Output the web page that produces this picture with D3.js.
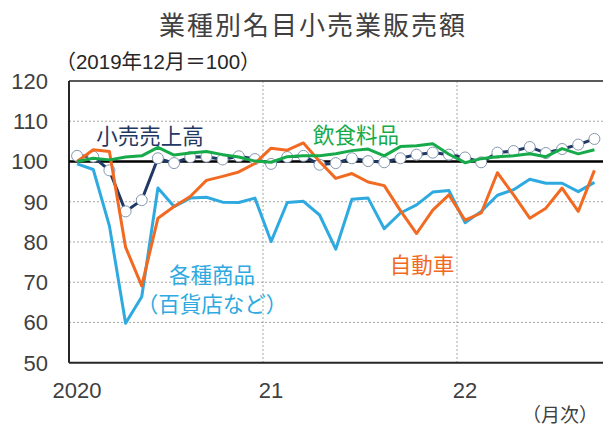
<!DOCTYPE html>
<meta charset="utf-8">
<script src="https://d3js.org/d3.v7.min.js"></script>
<style>
* { margin: 0; padding: 0; }
body { background: #fff; }
text { font-family: "Liberation Sans", "Noto Sans CJK JP", sans-serif; }
.jp { font-family: "Noto Sans CJK JP", sans-serif; }
</style>
<svg width="603" height="428"></svg>
<script>
// monthly index, 2019/12 = 100 (Jan 2020 .. Sep 2022)
const months = d3.range(33);
const total = [101.4, 101.2, 97.8, 87.6, 90.4, 100.8, 99.6, 101.1, 101.2, 100.5, 101.3, 100.6,
  99.4, 101.1, 101.4, 99.2, 99.6, 100.8, 100.1, 99.8, 100.8, 101.7, 102.2, 101.7,
  101.0, 99.8, 102.2, 102.6, 103.6, 102.1, 103.1, 104.2, 105.6];
const food = [100.0, 100.8, 100.4, 101.1, 101.4, 103.5, 101.6, 102.1, 102.5, 101.7, 101.1, 100.1,
  99.8, 101.2, 101.4, 101.4, 101.9, 102.7, 103.1, 101.4, 103.7, 103.9, 104.4, 101.8,
  99.7, 100.7, 101.2, 101.4, 101.9, 101.2, 103.2, 101.9, 102.9];
const auto = [100.0, 102.9, 102.5, 78.7, 69.1, 85.9, 88.8, 91.3, 95.3, 96.3, 97.4, 99.5,
  103.3, 102.8, 104.6, 100.0, 95.8, 97.0, 94.9, 94.0, 87.8, 82.1, 87.9, 91.7,
  85.4, 87.2, 97.2, 91.7, 85.9, 88.4, 93.4, 87.6, 97.8];
const general = [99.4, 98.0, 84.0, 59.8, 66.4, 93.4, 88.8, 90.9, 91.1, 89.9, 89.8, 90.9,
  80.1, 89.8, 90.1, 86.7, 78.2, 90.6, 90.9, 83.3, 87.2, 89.2, 92.4, 92.8,
  84.8, 87.6, 91.6, 93.0, 95.6, 94.6, 94.6, 92.5, 94.8];
const yTicks = [50, 60, 70, 80, 90, 100, 110, 120];
const xTicks = [0, 12, 24];
const xTickLabels = ["2020", "21", "22"];

const svg = d3.select("svg");
const x = d3.scaleLinear().domain([0, 12]).range([69, 263]);
const y = d3.scaleLinear().domain([50, 120]).range([362.7, 81]);
const right = 603;
const px = i => x(i + 0.5);

// title
svg.append("text").attr("class", "jp")
  .attr("x", 313).attr("y", 35)
  .attr("text-anchor", "middle")
  .attr("font-size", "26px").attr("letter-spacing", "2px")
  .attr("fill", "#404040")
  .text("業種別名目小売業販売額");

svg.append("text")
  .attr("x", 158).attr("y", 69)
  .attr("text-anchor", "middle")
  .attr("font-size", "20.5px")
  .attr("fill", "#262626")
  .text("（2019年12月＝100）");

// grid
const grid = svg.append("g");
grid.selectAll(".hg").data(yTicks.filter(d => d > 50 && d < 120 && d != 100)).enter()
  .append("line")
  .attr("x1", x(0)).attr("x2", right)
  .attr("y1", d => y(d)).attr("y2", d => y(d))
  .attr("stroke", "#a6a6a6").attr("stroke-width", 1).attr("stroke-dasharray", "2,2");
grid.selectAll(".vg").data(xTicks.slice(1)).enter()
  .append("line")
  .attr("x1", d => x(d)).attr("x2", d => x(d))
  .attr("y1", y(120)).attr("y2", y(50))
  .attr("stroke", "#a6a6a6").attr("stroke-width", 1).attr("stroke-dasharray", "2,2");

// frame
svg.append("line").attr("x1", x(0)).attr("x2", right).attr("y1", y(120)).attr("y2", y(120))
  .attr("stroke", "#595959").attr("stroke-width", 2);
svg.append("line").attr("x1", x(0)).attr("x2", right).attr("y1", y(50)).attr("y2", y(50))
  .attr("stroke", "#262626").attr("stroke-width", 2);
svg.append("line").attr("x1", x(0)).attr("x2", x(0)).attr("y1", y(120)).attr("y2", y(50))
  .attr("stroke", "#262626").attr("stroke-width", 2);
svg.append("line").attr("x1", x(0)).attr("x2", right).attr("y1", y(100)).attr("y2", y(100))
  .attr("stroke", "#000").attr("stroke-width", 2.5);

// axis labels
svg.selectAll(".yl").data(yTicks).enter()
  .append("text")
  .attr("x", 48).attr("y", d => y(d) + 8)
  .attr("text-anchor", "end")
  .attr("font-size", "22px").attr("fill", "#404040")
  .text(d => d);
svg.selectAll(".xl").data(xTicks).enter()
  .append("text")
  .attr("x", d => px(d)).attr("y", 398)
  .attr("text-anchor", "middle")
  .attr("font-size", "22px").attr("fill", "#404040")
  .text((d, i) => xTickLabels[i]);
svg.append("text").attr("class", "jp")
  .attr("x", 598).attr("y", 422)
  .attr("text-anchor", "end")
  .attr("font-size", "19px").attr("fill", "#404040")
  .text("（月次）");

// lines
const line = d3.line().x((d, i) => px(i)).y(d => y(d));

svg.append("path").datum(total).attr("d", line)
  .attr("fill", "none").attr("stroke", "#1f3864").attr("stroke-width", 3);
svg.selectAll(".dot").data(total).enter()
  .append("circle")
  .attr("cx", (d, i) => px(i)).attr("cy", d => y(d)).attr("r", 5.5)
  .attr("fill", "#fff").attr("stroke", "#8496b0").attr("stroke-width", 1);

const series = [
  {v: general, c: "#2eaae1"},
  {v: auto, c: "#f26a21"},
  {v: food, c: "#17aa4a"}
];
series.forEach(s => {
  svg.append("path").datum(s.v).attr("d", line)
    .attr("fill", "none").attr("stroke", s.c)
    .attr("stroke-width", 3).attr("stroke-linejoin", "round");
});

// series labels
const labels = [
  {t: "小売売上高", x: 150, y: 144, c: "#1f3864"},
  {t: "飲食料品", x: 356, y: 143, c: "#17aa4a"},
  {t: "自動車", x: 422, y: 273, c: "#f26a21"},
  {t: "各種商品", x: 212, y: 283, c: "#2eaae1"},
  {t: "（百貨店など）", x: 212, y: 312, c: "#2eaae1"}
];
svg.selectAll(".lab").data(labels).enter()
  .append("text").attr("class", "jp")
  .attr("x", d => d.x).attr("y", d => d.y)
  .attr("text-anchor", "middle")
  .attr("font-size", "21.5px")
  .attr("fill", d => d.c)
  .text(d => d.t);
</script>
